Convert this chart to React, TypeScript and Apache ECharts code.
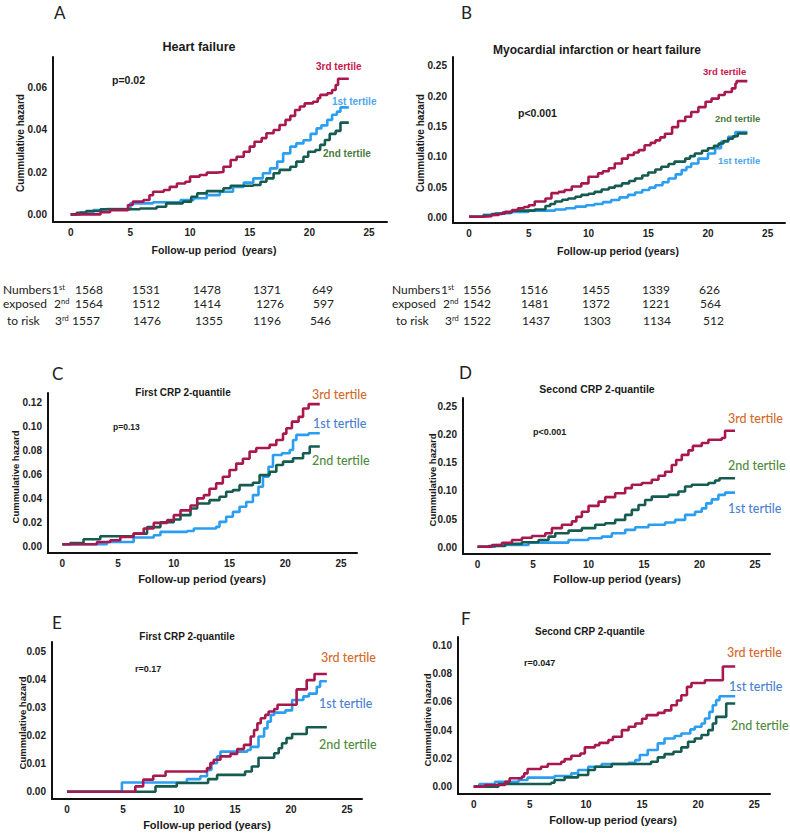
import React, { useEffect, useRef } from 'react';
import * as echarts from 'echarts';

// ---------- data: [follow-up years, cumulative hazard] ----------
const X_TICKS = [0, 5, 10, 15, 20, 25];
const Y_TICKS_A = [0, 0.02, 0.04, 0.06];
const Y_TICKS_B = [0, 0.05, 0.1, 0.15, 0.2, 0.25];
const Y_TICKS_C = [0, 0.02, 0.04, 0.06, 0.08, 0.1, 0.12];
const Y_TICKS_D = [0, 0.05, 0.1, 0.15, 0.2, 0.25];
const Y_TICKS_E = [0, 0.01, 0.02, 0.03, 0.04, 0.05];
const Y_TICKS_F = [0, 0.02, 0.04, 0.06, 0.08, 0.1];

const A_T3 = [[0,0],[2.5,0.001],[3.3,0.002],[4.8,0.0044],[5.2,0.006],[6.1,0.0068],[6.6,0.009],[6.9,0.0107],[7.8,0.0115],[8.3,0.013],[8.9,0.0146],[9.6,0.0154],[10,0.0178],[10.8,0.0186],[11.4,0.0197],[12.2,0.02],[12.8,0.0225],[13.4,0.0257],[13.9,0.0272],[14.5,0.0296],[15,0.032],[15.4,0.0343],[16,0.036],[16.4,0.0383],[17,0.0398],[17.5,0.0422],[18,0.0446],[18.4,0.0465],[18.8,0.0493],[19.2,0.0509],[19.6,0.0524],[20.3,0.0532],[20.7,0.0548],[20.9,0.0564],[21.5,0.0572],[21.9,0.0587],[22.2,0.0611],[22.4,0.064],[23.3,0.064]];
const A_T1 = [[0,0],[0.8,0.001],[1.9,0.002],[3,0.0025],[5,0.0052],[6.9,0.0057],[9.2,0.0068],[10.3,0.0076],[11.4,0.0091],[12.5,0.0107],[13.6,0.013],[14.5,0.015],[15.3,0.017],[16.1,0.0194],[16.7,0.0217],[17.3,0.0249],[17.8,0.0288],[18.4,0.032],[18.9,0.0335],[19.5,0.035],[20.1,0.038],[20.6,0.0406],[21,0.042],[21.5,0.0446],[21.9,0.047],[22.3,0.0485],[22.6,0.0505],[23.3,0.0505]];
const A_T2 = [[0,0],[0.5,0.0008],[1.3,0.0016],[2.5,0.0024],[5.8,0.0028],[7.2,0.0036],[8,0.0052],[9.4,0.006],[10.1,0.0083],[10.6,0.0099],[11.4,0.011],[12.8,0.0123],[13.4,0.0135],[15.3,0.0139],[15.9,0.0154],[16.4,0.017],[17,0.0194],[17.5,0.021],[18.4,0.0225],[18.9,0.0249],[19.5,0.0272],[19.9,0.0296],[20.5,0.0304],[20.9,0.0328],[21.3,0.0351],[21.7,0.038],[22.2,0.0394],[22.6,0.0433],[23.3,0.0433]];

const B_T3 = [[0,0.001],[1.2,0.002],[1.9,0.004],[2.5,0.006],[3,0.009],[3.6,0.012],[4.1,0.015],[4.6,0.017],[5,0.02],[5.5,0.026],[6.4,0.031],[6.9,0.04],[7.5,0.042],[8,0.045],[8.6,0.051],[9.4,0.056],[10,0.067],[10.8,0.0725],[11.2,0.076],[11.7,0.081],[12.2,0.089],[12.8,0.097],[13.3,0.103],[13.8,0.107],[14.2,0.111],[14.7,0.119],[15.2,0.123],[15.6,0.127],[16,0.132],[16.4,0.138],[17,0.149],[17.5,0.159],[18.1,0.166],[18.6,0.174],[19.2,0.182],[19.8,0.191],[20.3,0.196],[20.9,0.202],[21.4,0.207],[22,0.213],[22.3,0.221],[22.4,0.225],[23.3,0.225]];
const B_T2 = [[0,0.001],[1.2,0.003],[1.9,0.0055],[2.8,0.008],[3.6,0.011],[5.5,0.013],[6.4,0.0187],[6.8,0.022],[7.2,0.026],[7.8,0.029],[8.3,0.031],[8.9,0.034],[9.4,0.037],[10,0.039],[10.5,0.042],[11.1,0.046],[11.7,0.049],[12.2,0.052],[12.8,0.056],[13.4,0.06],[13.9,0.064],[14.5,0.069],[15,0.074],[15.6,0.079],[16.1,0.0835],[16.7,0.088],[17.2,0.092],[18.1,0.097],[18.5,0.101],[18.9,0.1055],[19.5,0.11],[20,0.114],[20.5,0.118],[20.9,0.122],[21.3,0.126],[21.7,0.13],[22.1,0.134],[22.5,0.1385],[23.3,0.1385]];
const B_T1 = [[0,0.001],[1.2,0.004],[2.2,0.0066],[3.5,0.009],[5,0.011],[7.2,0.013],[8.1,0.015],[8.9,0.0176],[9.8,0.02],[10.5,0.022],[11.2,0.025],[11.9,0.0286],[12.6,0.033],[13.3,0.037],[13.9,0.041],[14.5,0.045],[15.1,0.049],[15.6,0.053],[16.2,0.058],[16.7,0.064],[17.3,0.071],[17.8,0.078],[18.2,0.083],[18.6,0.089],[19.2,0.097],[20,0.1055],[20.6,0.114],[21.1,0.125],[21.7,0.133],[22.3,0.141],[23.3,0.141]];

const C_T3 = [[0,0.0017],[3.1,0.0036],[4.3,0.005],[5.2,0.0078],[6.4,0.0106],[7.3,0.0148],[8.2,0.0195],[9.4,0.0218],[10,0.026],[10.6,0.03],[11.5,0.034],[12.1,0.04],[12.7,0.0427],[13.2,0.048],[13.8,0.0525],[14.4,0.058],[15,0.0636],[15.6,0.069],[16.2,0.073],[16.8,0.079],[17.4,0.082],[18.6,0.0846],[19.2,0.0887],[19.8,0.094],[20.1,0.0985],[20.6,0.104],[21.2,0.108],[21.6,0.115],[22.1,0.1186],[23.1,0.1186]];
const C_T2 = [[0,0.0017],[0.7,0.0028],[1.9,0.0059],[3.4,0.0084],[6.4,0.0106],[7.6,0.016],[8.8,0.02],[10,0.0223],[10.6,0.026],[11.5,0.0315],[12.1,0.0357],[13.2,0.0385],[14.1,0.0413],[14.7,0.0455],[15.3,0.0469],[15.9,0.051],[17.1,0.053],[17.7,0.0594],[18.6,0.0622],[19.2,0.0678],[19.8,0.0706],[20.7,0.0734],[21.6,0.0776],[22.2,0.0832],[23.1,0.0832]];
const C_T1 = [[0,0.0017],[4,0.0036],[6.4,0.0073],[8.2,0.0092],[8.8,0.012],[11.2,0.0128],[11.8,0.0148],[13.8,0.0162],[14.1,0.0204],[14.7,0.0246],[15.3,0.0287],[15.9,0.033],[16.5,0.037],[17.1,0.0427],[17.6,0.0497],[18,0.058],[18.5,0.0664],[18.9,0.0762],[19.7,0.0776],[20.4,0.0804],[20.7,0.0887],[21,0.093],[22.1,0.0943],[23.1,0.0943]];

const D_T3 = [[0,0.001],[1.3,0.004],[2.2,0.008],[3.1,0.013],[4,0.017],[4.9,0.02],[6.1,0.025],[6.7,0.034],[7.6,0.04],[8.5,0.046],[8.9,0.054],[9.4,0.063],[10,0.0735],[10.9,0.081],[11.5,0.089],[12.4,0.096],[13.3,0.105],[13.9,0.111],[14.8,0.114],[15.7,0.12],[16.3,0.127],[16.9,0.134],[17.5,0.146],[17.9,0.155],[18.4,0.164],[19,0.172],[19.4,0.18],[20.2,0.185],[20.8,0.191],[22,0.194],[22.3,0.207],[23.2,0.207]];
const D_T2 = [[0,0.001],[1,0.0024],[2.5,0.006],[4,0.009],[5.5,0.013],[6.4,0.019],[7,0.025],[8.2,0.0296],[9.4,0.034],[10.6,0.04],[11.5,0.0427],[12.4,0.0486],[13.3,0.0575],[13.9,0.0664],[14.5,0.075],[15.1,0.084],[15.7,0.09],[17.2,0.093],[18.1,0.099],[18.7,0.108],[19.3,0.111],[20.8,0.114],[21.4,0.1185],[21.8,0.1226],[23.2,0.1226]];
const D_T1 = [[0,0.001],[1.6,0.004],[4.6,0.0083],[8.2,0.013],[10,0.016],[11.2,0.019],[12.1,0.025],[13.3,0.031],[14.2,0.0355],[15.4,0.04],[16.9,0.044],[17.8,0.0486],[18.7,0.0575],[19.6,0.063],[20.2,0.069],[20.6,0.078],[21.1,0.085],[21.7,0.093],[22.3,0.097],[23.2,0.097]];

const E_T3 = [[0,0],[6.1,0.0019],[6.8,0.0043],[7.7,0.0057],[8.8,0.0072],[12.5,0.0084],[12.8,0.0102],[13.1,0.0114],[13.7,0.0126],[14.6,0.0135],[15.2,0.0152],[15.8,0.0167],[16.4,0.0197],[16.7,0.022],[17,0.0244],[17.3,0.0262],[17.7,0.0274],[18,0.0286],[18.5,0.0295],[18.8,0.031],[20.5,0.0365],[21.4,0.0398],[22.1,0.042],[23.2,0.042]];
const E_T1 = [[0,0],[4.9,0.0033],[10.7,0.0045],[11.9,0.0055],[12.5,0.0078],[12.9,0.0102],[13.4,0.0126],[13.7,0.0143],[16.1,0.0149],[16.4,0.016],[17.1,0.0197],[17.6,0.0226],[17.9,0.025],[18.2,0.0274],[18.5,0.0282],[19.5,0.029],[20.1,0.0327],[21.1,0.034],[21.6,0.035],[22.3,0.0374],[22.6,0.0394],[23.2,0.0394]];
const E_T2 = [[0,0],[7.9,0.0019],[9.8,0.0031],[12.6,0.0045],[13.4,0.006],[15.9,0.0072],[16.5,0.009],[17.1,0.0121],[18.5,0.0137],[18.9,0.0155],[19.2,0.0173],[19.6,0.0191],[20.1,0.0206],[21.4,0.023],[23.2,0.023]];

const F_T3 = [[0,0],[1,0.0012],[2.8,0.0035],[3.2,0.0059],[4.3,0.0071],[4.5,0.0094],[4.8,0.0125],[6,0.0141],[6.6,0.016],[7.8,0.0176],[8.1,0.0195],[8.7,0.0219],[9.5,0.0235],[9.9,0.0278],[10.8,0.0294],[11.2,0.031],[12,0.033],[12.4,0.0353],[13.2,0.04],[13.8,0.0424],[14.4,0.0447],[15,0.048],[15.4,0.0506],[16.4,0.0522],[17,0.054],[17.6,0.0576],[18.1,0.061],[18.5,0.0647],[19,0.0706],[19.4,0.0734],[20.6,0.0753],[22.2,0.085],[23.3,0.085]];
const F_T1 = [[0,0],[0.5,0.0019],[1.9,0.0035],[4,0.0047],[4.8,0.0064],[7.2,0.0075],[8.7,0.0094],[9.3,0.0118],[10.2,0.0141],[11.4,0.016],[13.8,0.0169],[14.4,0.0188],[14.8,0.0224],[15.5,0.0259],[16.4,0.0306],[17,0.0341],[17.9,0.0358],[18.5,0.0376],[19.3,0.0405],[19.7,0.0424],[20.3,0.0447],[20.6,0.0482],[21,0.0529],[21.3,0.0576],[21.6,0.0612],[21.9,0.064],[23.3,0.064]];
const F_T2 = [[0,0],[2.2,0.0019],[6.9,0.0028],[7.2,0.0047],[8.1,0.0066],[9.3,0.0082],[10.2,0.0118],[10.8,0.0141],[12.3,0.016],[15.8,0.0176],[16.4,0.0207],[17,0.023],[17.8,0.0247],[18.5,0.0278],[19.1,0.0318],[19.7,0.0341],[20.3,0.0365],[20.9,0.04],[21.3,0.0447],[21.6,0.0494],[22.5,0.0588],[23.3,0.0588]];

// numbers at risk
const RISK_A_1 = ['1568', '1531', '1478', '1371', '649'];
const RISK_A_2 = ['1564', '1512', '1414', '1276', '597'];
const RISK_A_3 = ['1557', '1476', '1355', '1196', '546'];
const RISK_B_1 = ['1556', '1516', '1455', '1339', '626'];
const RISK_B_2 = ['1542', '1481', '1372', '1221', '564'];
const RISK_B_3 = ['1522', '1437', '1303', '1134', '512'];

const COL_T3 = '#a8184f';
const COL_T1 = '#2b9ef2';
const COL_T2 = '#155b4f';

// ---------- layout ----------
const PANELS = [
  { grid: { left: 53, top: 57, width: 334, height: 165 }, x: [-1.48, 26.5], y: [-0.0036, 0.0743], yTicks: Y_TICKS_A, s: [A_T1, A_T2, A_T3] },
  { grid: { left: 453, top: 57, width: 332, height: 166 }, x: [-1.34, 26.45], y: [-0.0094, 0.2648], yTicks: Y_TICKS_B, s: [B_T1, B_T2, B_T3] },
  { grid: { left: 48, top: 393, width: 309, height: 160 }, x: [-1.29, 26.44], y: [-0.0056, 0.1279], yTicks: Y_TICKS_C, s: [C_T1, C_T2, C_T3] },
  { grid: { left: 463, top: 398, width: 307, height: 156 }, x: [-1.31, 26.35], y: [-0.0119, 0.265], yTicks: Y_TICKS_D, s: [D_T1, D_T2, D_T3] },
  { grid: { left: 52, top: 642, width: 310, height: 157 }, x: [-1.34, 26.34], y: [-0.0026, 0.0534], yTicks: Y_TICKS_E, s: [E_T1, E_T2, E_T3] },
  { grid: { left: 458, top: 637, width: 312, height: 157 }, x: [-1.4, 26.4], y: [-0.0052, 0.1059], yTicks: Y_TICKS_F, s: [F_T1, F_T2, F_T3] },
];

const ARIAL = 'Liberation Sans, Arial, sans-serif';
const CAL = 'Lato, Open Sans, sans-serif';

function txt(x: number, y: number, text: string, o: any = {}) {
  return {
    type: 'text', x, y, rotation: o.rotation || 0, silent: true,
    style: {
      text, fill: o.fill || '#1a1a1a', fontSize: o.size || 10, fontWeight: o.weight || 'bold',
      fontFamily: o.family || ARIAL, align: o.align || 'left', verticalAlign: 'middle',
      rich: o.rich,
    },
  };
}

function buildGraphic() {
  const g: any[] = [];
  // panel letters
  const letters: [string, number, number][] = [['A', 54, 12], ['B', 461, 12], ['C', 52, 373], ['D', 459, 372], ['E', 52, 622], ['F', 461, 618]];
  letters.forEach(([l, x, y]) => g.push(txt(x, y, l, { size: 17, weight: 'normal', family: CAL, fill: '#222' })));
  // titles
  g.push(txt(199, 47, 'Heart failure', { size: 12.5, align: 'center' }));
  g.push(txt(597, 50, 'Myocardial infarction or heart failure', { size: 12, align: 'center' }));
  g.push(txt(183, 392, 'First CRP 2-quantile', { size: 10, align: 'center' }));
  g.push(txt(597, 389, 'Second CRP 2-quantile', { size: 10.5, align: 'center' }));
  g.push(txt(187, 636, 'First CRP 2-quantile', { size: 10, align: 'center' }));
  g.push(txt(590, 631, 'Second CRP 2-quantile', { size: 10, align: 'center' }));
  // p values
  g.push(txt(112, 80, 'p=0.02', { size: 10.5 }));
  g.push(txt(518, 113, 'p<0.001', { size: 10.5 }));
  g.push(txt(113, 427, 'p=0.13', { size: 8.5 }));
  g.push(txt(533, 432, 'p<0.001', { size: 9 }));
  g.push(txt(135, 669, 'r=0.17', { size: 9 }));
  g.push(txt(524, 663, 'r=0.047', { size: 9 }));
  // series labels A/B
  const red = '#c8174d', lblue = '#4ea6ee', green = '#4b7b3d';
  g.push(txt(316, 66, '3rd tertile', { fill: red, size: 10 }));
  g.push(txt(332, 101, '1st tertile', { fill: lblue, size: 10 }));
  g.push(txt(323, 153, '2nd tertile', { fill: green, size: 10 }));
  g.push(txt(703, 71, '3rd tertile', { fill: red, size: 9.5 }));
  g.push(txt(715, 118, '2nd tertile', { fill: green, size: 9.5 }));
  g.push(txt(718, 160, '1st tertile', { fill: lblue, size: 9.5 }));
  // series labels C-F
  const org = '#d4692a', blue = '#4a80d2', grn = '#4f8a3d';
  const cal = (x: number, y: number, t: string, fill: string) => g.push(txt(x, y, t, { fill, size: 12.5, weight: 500, family: CAL }));
  cal(312, 394, '3rd tertile', org); cal(313, 423, '1st tertile', blue); cal(312, 460, '2nd tertile', grn);
  cal(728, 418, '3rd tertile', org); cal(728, 465, '2nd tertile', grn); cal(728, 508, '1st tertile', blue);
  cal(321, 657, '3rd tertile', org); cal(319, 703, '1st tertile', blue); cal(319, 744, '2nd tertile', grn);
  cal(727, 652, '3rd tertile', org); cal(729, 686, '1st tertile', blue); cal(731, 725, '2nd tertile', grn);
  // y axis names
  const yn: [number, number, number][] = [[20, 143, 10], [420, 143, 10], [15, 477, 9.5], [432, 480, 9.5], [22, 723, 9.5], [427, 720, 9.5]];
  yn.forEach(([x, y, s]) => g.push(txt(x, y, 'Cummulative hazard', { size: s, align: 'center', rotation: Math.PI / 2 })));
  // x axis names
  g.push(txt(214, 250, 'Follow-up period  (years)', { size: 10.5, align: 'center' }));
  g.push(txt(618, 251, 'Follow-up period (years)', { size: 10.5, align: 'center' }));
  g.push(txt(202, 579, 'Follow-up period (years)', { size: 11, align: 'center' }));
  g.push(txt(617, 579, 'Follow-up period (years)', { size: 11, align: 'center' }));
  g.push(txt(207, 825, 'Follow-up period (years)', { size: 11, align: 'center' }));
  g.push(txt(613, 820, 'Follow-up period (years)', { size: 11, align: 'center' }));
  // numbers at risk tables
  const rowY = [289, 303.5, 320.5];
  const rich = { s: { fontSize: 7.5, verticalAlign: 'top', fontFamily: CAL, fill: '#222' }, n: { fontSize: 12, fontFamily: CAL, fill: '#222' } };
  const tbl = (ox: number, rows: string[][], cols: number[][], ordX: number[], labX: number[]) => {
    const labs = ['Numbers', 'exposed', 'to risk'];
    const ords = ['{n|1}{s|st}', '{n|2}{s|nd}', '{n|3}{s|rd}'];
    rows.forEach((r, i) => {
      g.push(txt(ox + labX[i], rowY[i], labs[i], { size: 12, weight: 'normal', family: CAL, fill: '#222' }));
      g.push(txt(ox + ordX[i], rowY[i], ords[i], { size: 12, weight: 'normal', family: CAL, fill: '#222', rich }));
      r.forEach((v, j) => g.push(txt(ox + cols[i][j], rowY[i], v, { size: 12, weight: 'normal', family: CAL, fill: '#222' })));
    });
  };
  tbl(0, [RISK_A_1, RISK_A_2, RISK_A_3],
    [[75, 132, 193, 253, 312], [75, 132, 193, 256, 313], [72, 133, 195, 253, 310]],
    [52, 54, 55], [3, 3, 7]);
  tbl(390, [RISK_B_1, RISK_B_2, RISK_B_3],
    [[73, 130, 192, 252, 309], [73, 131, 192, 252, 310], [73, 132, 193, 253, 313]],
    [51, 53, 55], [2, 2, 6]);
  return g;
}

export default function App() {
  const ref = useRef<HTMLDivElement>(null);
  useEffect(() => {
    const chart = echarts.init(ref.current!, undefined, { renderer: 'svg' });
    const grid: any[] = [], xAxis: any[] = [], yAxis: any[] = [], series: any[] = [];
    PANELS.forEach((p, i) => {
      grid.push({ ...p.grid, containLabel: false });
      const axisLine = { show: true, onZero: false, lineStyle: { color: '#111', width: 2 } };
      xAxis.push({
        type: 'value', gridIndex: i, min: p.x[0], max: p.x[1], axisLine, axisTick: { show: false }, splitLine: { show: false },
        axisLabel: { customValues: X_TICKS, fontSize: 10, fontWeight: 'bold', color: '#222', margin: 5, fontFamily: ARIAL, formatter: (v: number) => String(Math.round(v)) },
      });
      yAxis.push({
        type: 'value', gridIndex: i, min: p.y[0], max: p.y[1], axisLine, axisTick: { show: false }, splitLine: { show: false },
        axisLabel: { customValues: p.yTicks, fontSize: 10, fontWeight: 'bold', color: '#222', margin: 6, fontFamily: ARIAL, formatter: (v: number) => v.toFixed(2) },
      });
      const cols = [COL_T1, COL_T2, COL_T3];
      p.s.forEach((d, k) => series.push({
        type: 'line', xAxisIndex: i, yAxisIndex: i, data: d, step: 'end', showSymbol: false, symbol: 'none',
        lineStyle: { color: cols[k], width: 2.6 }, z: 2 + k, silent: true,
      }));
    });
    chart.setOption({ animation: false, backgroundColor: '#ffffff', grid, xAxis, yAxis, series, graphic: buildGraphic() });
    return () => chart.dispose();
  }, []);
  return <div ref={ref} style={{ position: 'fixed', left: 0, top: 0, width: 790, height: 835 }} />;
}
